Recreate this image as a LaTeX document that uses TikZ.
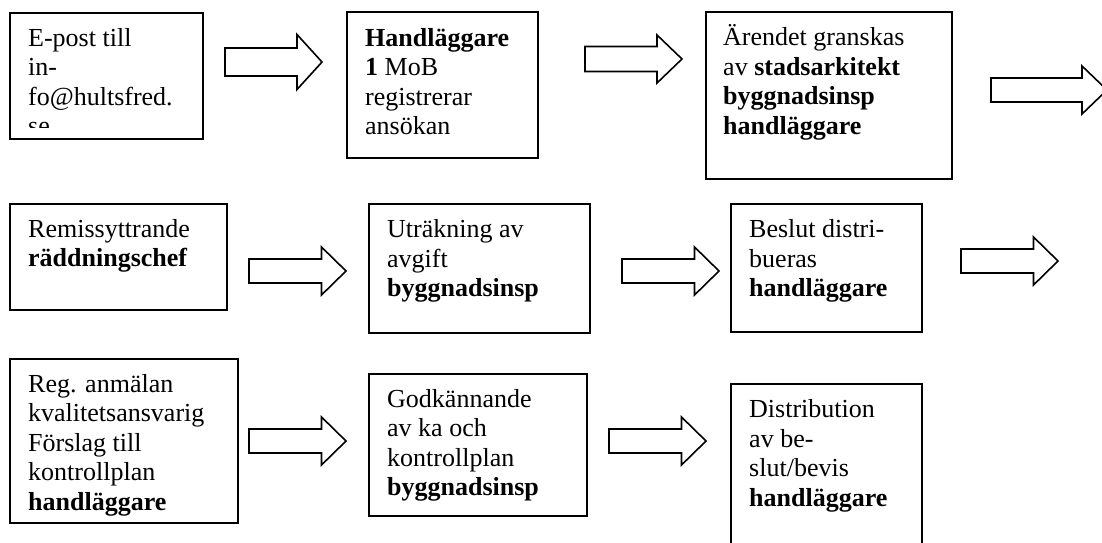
\documentclass[tikz,border=0pt]{standalone}
\usepackage{fontspec}
\setmainfont{Liberation Serif}
\newcommand\barr[6]{% tailx, tipx, cy, shafthalf, headhalf, headlength
  \draw[barrow] (#1,#3-#4) -- (#2-#6,#3-#4) -- (#2-#6,#3-#5) -- (#2,#3)
    -- (#2-#6,#3+#5) -- (#2-#6,#3+#4) -- (#1,#3+#4) -- cycle;}
\tikzset{
  box/.style={draw, line width=1.8pt, inner sep=0pt, anchor=north west},
  boxtext/.style={anchor=north west, inner sep=0pt, align=left,
    font=\fontsize{26}{29.5}\selectfont},
  barrow/.style={draw, line width=1.6pt, line join=miter},
}
\begin{document}
\begin{tikzpicture}[x=1pt,y=-1pt]
\useasboundingbox (0,0) rectangle (1102,542);
% row 1
\node[box, minimum width=193, minimum height=126] (b1) at (9,12) {};
\begin{scope}
\clip (9,12) rectangle (202,127.5);
\node[boxtext] (t1) at ([shift={(19,13.4)}]b1.north west)
  {\strut E-post till\\\strut in-\\\strut fo@hultsfred.\\\strut se};
\end{scope}
\node[box, minimum width=191, minimum height=146] (b2) at (346,11) {};
\node[boxtext] (t2) at ([shift={(19,14.4)}]b2.north west)
  {\strut\textbf{Handläggare}\\\strut\textbf{1} MoB\\\strut registrerar\\\strut ansökan};
\node[box, minimum width=246, minimum height=167] (b3) at (705,11) {};
\node[boxtext] (t3) at ([shift={(18,13.4)}]b3.north west)
  {\strut Ärendet granskas\\\strut av \textbf{stadsarkitekt}\\\strut\textbf{byggnadsinsp}\\\strut\textbf{handläggare}};
% row 2
\node[box, minimum width=217, minimum height=106] (b4) at (9,203) {};
\node[boxtext] (t4) at ([shift={(19,13.4)}]b4.north west)
  {\strut Remissyttrande\\\strut\textbf{räddningschef}};
\node[box, minimum width=221, minimum height=129] (b5) at (368,203) {};
\node[boxtext] (t5) at ([shift={(19,14)}]b5.north west)
  {\strut Uträkning av\\\strut avgift\\\strut\textbf{byggnadsinsp}};
\node[box, minimum width=191, minimum height=128] (b6) at (730,203) {};
\node[boxtext] (t6) at ([shift={(19,14)}]b6.north west)
  {\strut Beslut distri-\\\strut bueras\\\strut\textbf{handläggare}};
% row 3
\node[box, minimum width=228, minimum height=164] (b7) at (9,358) {};
\node[boxtext] (t7) at ([shift={(19,13.4)}]b7.north west)
  {\strut Reg. anmälan\\\strut kvalitetsansvarig\\\strut Förslag till\\\strut kontrollplan\\\strut\textbf{handläggare}};
\node[box, minimum width=218, minimum height=142] (b8) at (368,373) {};
\node[boxtext] (t8) at ([shift={(19,13.4)}]b8.north west)
  {\strut Godkännande\\\strut av ka och\\\strut kontrollplan\\\strut\textbf{byggnadsinsp}};
\node[box, minimum width=191, minimum height=165] (b9) at (730,383) {};
\node[boxtext] (t9) at ([shift={(19,14)}]b9.north west)
  {\strut Distribution\\\strut av be-\\\strut slut/bevis\\\strut\textbf{handläggare}};
% block arrows
\barr{225}{322}{62}{14}{27.5}{25}
\barr{585}{682}{59}{12.5}{24}{25}
\barr{991}{1107}{90}{12}{24}{25}
\barr{249}{346}{271}{12}{24}{24.5}
\barr{622}{719}{271}{12}{24}{24.5}
\barr{961}{1058}{261}{12}{24}{24.5}
\barr{249}{346}{441}{12}{24}{24.5}
\barr{609}{706}{441}{12}{24}{24.5}
\end{tikzpicture}
\end{document}
